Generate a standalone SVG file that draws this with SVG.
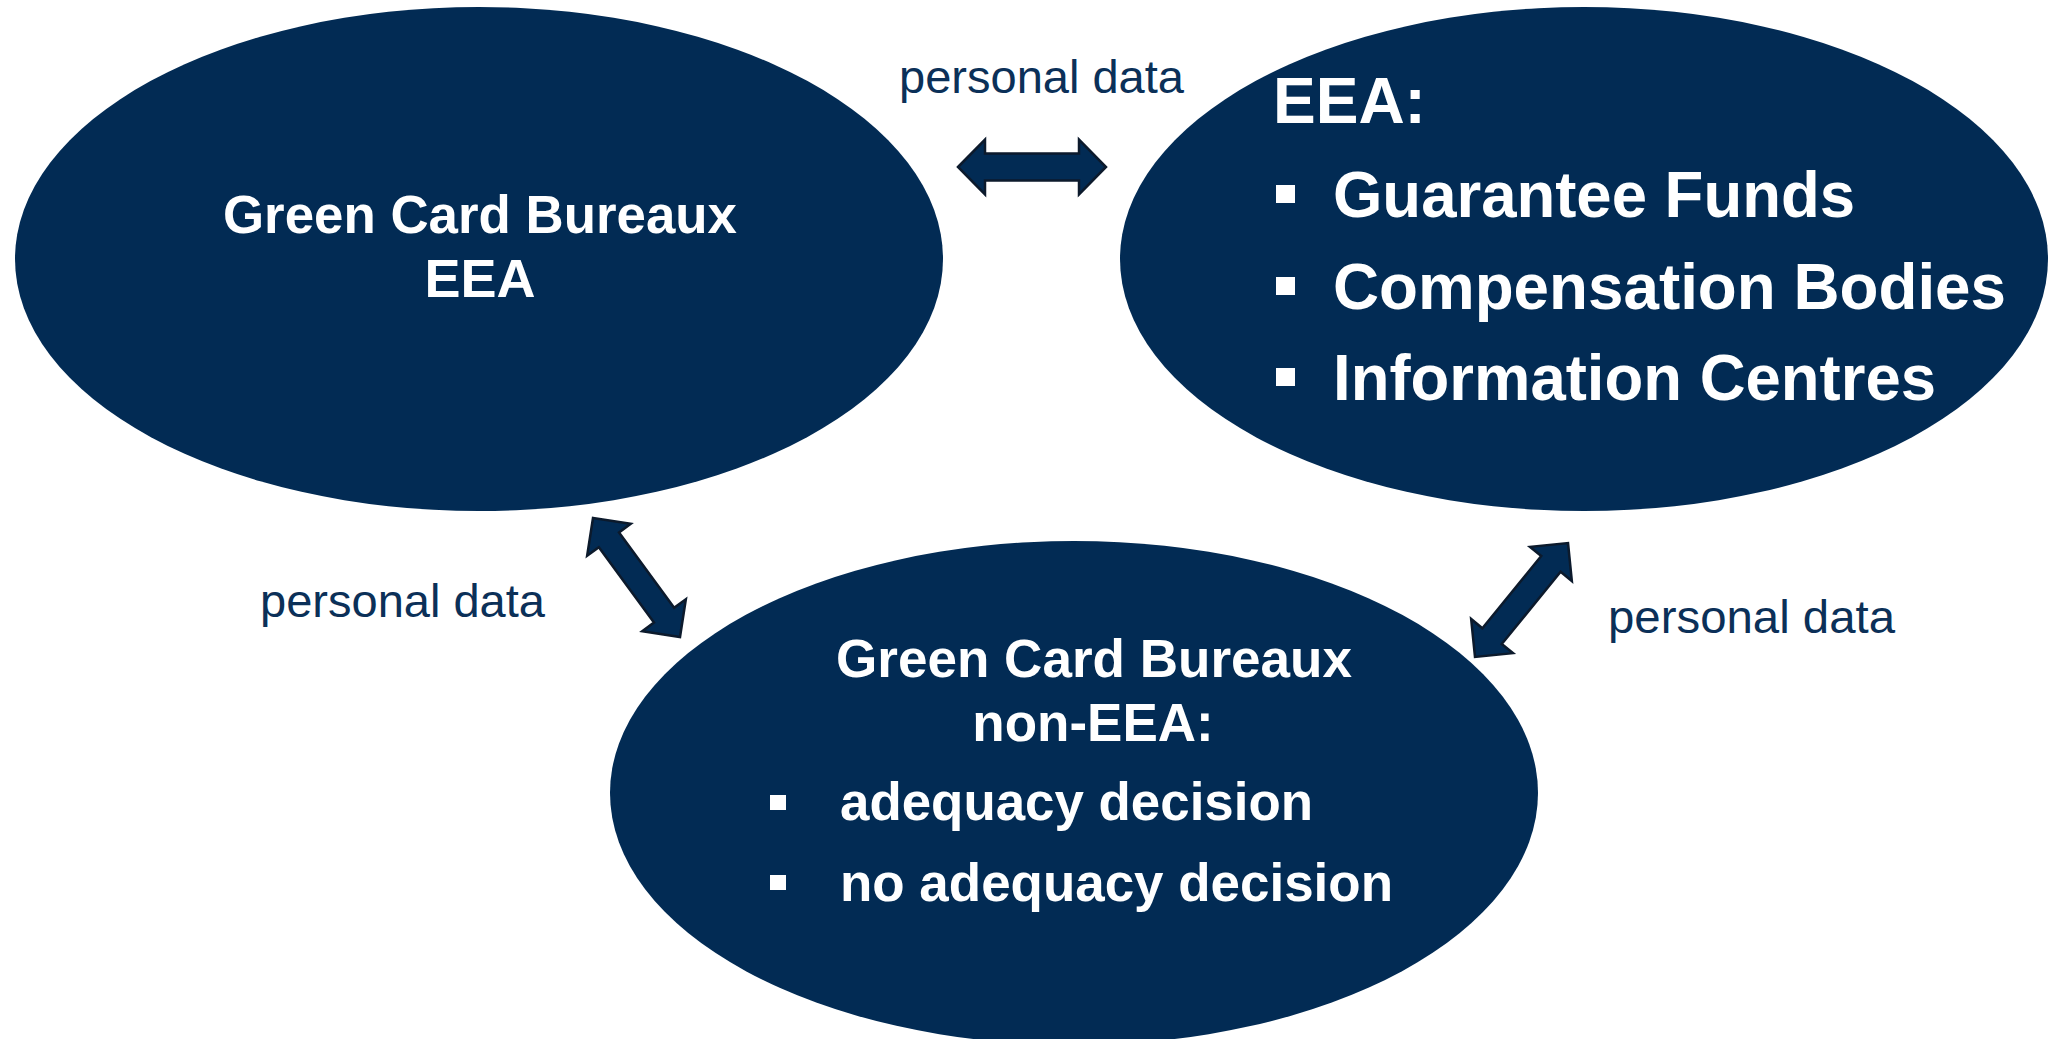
<svg xmlns="http://www.w3.org/2000/svg" width="2048" height="1039" viewBox="0 0 2048 1039">
<style>
.node{fill:#022b54;}
.bold{font-family:"Liberation Sans",Arial,sans-serif;font-weight:bold;fill:#ffffff;}
.lbl{font-family:"Liberation Sans",Arial,sans-serif;font-size:47px;fill:#0b3058;}
.arrow{fill:#022b54;stroke:#0c1a2c;stroke-width:2.5;stroke-linejoin:miter;}
.bul{fill:#ffffff;}
</style>
<rect x="0" y="0" width="2048" height="1039" fill="#ffffff"/>
<g id="node-gcb-eea">
<ellipse class="node" cx="479" cy="259" rx="464" ry="252"/>
<text class="bold" x="480" y="233" font-size="54" text-anchor="middle" textLength="514" lengthAdjust="spacingAndGlyphs">Green Card Bureaux</text>
<text class="bold" x="480" y="297" font-size="54" text-anchor="middle">EEA</text>
</g>
<g id="node-eea-bodies">
<ellipse class="node" cx="1584" cy="259" rx="464" ry="252"/>
<text class="bold" x="1273" y="123" font-size="64">EEA:</text>
<rect class="bul" x="1276" y="185" width="19" height="18"/>
<text class="bold" x="1333" y="217" font-size="64" textLength="522" lengthAdjust="spacingAndGlyphs">Guarantee Funds</text>
<rect class="bul" x="1276" y="277" width="19" height="18"/>
<text class="bold" x="1333" y="309" font-size="64" textLength="673" lengthAdjust="spacingAndGlyphs">Compensation Bodies</text>
<rect class="bul" x="1276" y="368" width="19" height="18"/>
<text class="bold" x="1333" y="400" font-size="64" textLength="603" lengthAdjust="spacingAndGlyphs">Information Centres</text>
</g>
<g id="node-gcb-non-eea">
<ellipse class="node" cx="1074" cy="793" rx="464" ry="252"/>
<text class="bold" x="1094" y="677" font-size="53" text-anchor="middle" textLength="516" lengthAdjust="spacingAndGlyphs">Green Card Bureaux</text>
<text class="bold" x="1093" y="741" font-size="53" text-anchor="middle">non-EEA:</text>
<rect class="bul" x="770" y="795" width="16" height="15"/>
<text class="bold" x="840" y="820" font-size="53" textLength="473" lengthAdjust="spacingAndGlyphs">adequacy decision</text>
<rect class="bul" x="770" y="875" width="16" height="15"/>
<text class="bold" x="840" y="901" font-size="53" textLength="553" lengthAdjust="spacingAndGlyphs">no adequacy decision</text>
</g>
<g id="connectors">
<polygon class="arrow" points="958,167 985,139.5 985,153.5 1079,153.5 1079,139.5 1106,167 1079,194.5 1079,180.5 985,180.5 985,194.5"/>
<polygon class="arrow" points="593,518 630.74,523.86 619.03,532.42 674.15,607.82 685.86,599.26 680,637 642.26,631.14 653.97,622.58 598.85,547.18 587.14,555.74"/>
<polygon class="arrow" points="1568,543 1571.86,581 1560.62,571.83 1501.76,643.97 1513,653.14 1475,657 1471.14,619 1482.38,628.17 1541.24,556.03 1530,546.86"/>
<text class="lbl" x="899" y="93" textLength="285" lengthAdjust="spacingAndGlyphs">personal data</text>
<text class="lbl" x="260" y="617" textLength="285" lengthAdjust="spacingAndGlyphs">personal data</text>
<text class="lbl" x="1608" y="633" textLength="287" lengthAdjust="spacingAndGlyphs">personal data</text>
</g>
</svg>
